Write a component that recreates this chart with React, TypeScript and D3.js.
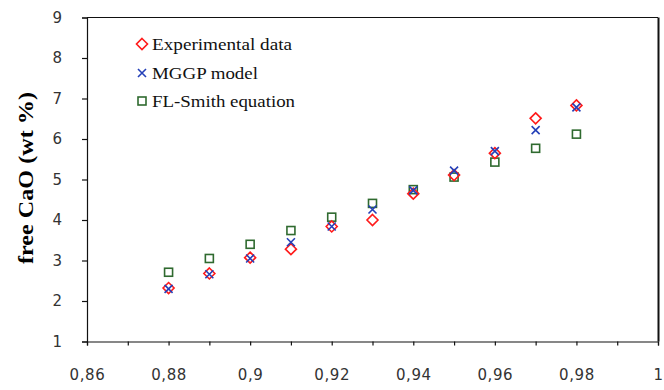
import * as d3 from "d3";
import { useEffect, useRef } from "react";

const xValues = [0.88, 0.89, 0.9, 0.91, 0.92, 0.93, 0.94, 0.95, 0.96, 0.97, 0.98];
const experimental = [2.32, 2.68, 3.07, 3.28, 3.84, 4.0, 4.65, 5.11, 5.65, 6.51, 6.83];
const mggp = [2.3, 2.66, 3.05, 3.45, 3.84, 4.26, 4.73, 5.22, 5.7, 6.22, 6.78];
const flSmith = [2.71, 3.05, 3.4, 3.74, 4.07, 4.41, 4.75, 5.06, 5.43, 5.77, 6.12];
const xTickLabels = ["0,86", "0,88", "0,9", "0,92", "0,94", "0,96", "0,98", "1"];
const yTickLabels = ["1", "2", "3", "4", "5", "6", "7", "8", "9"];
const legendLabels = ["Experimental data", "MGGP model", "FL-Smith equation"];

const W = 664;
const H = 390;

export default function App() {
  const ref = useRef<SVGSVGElement | null>(null);

  useEffect(() => {
    if (!ref.current) return;
    const svg = d3.select(ref.current);
    svg.selectAll("*").remove();

    const x = d3.scaleLinear().domain([0.86, 1]).range([87, 658]);
    const y = d3.scaleLinear().domain([1, 9]).range([341.5, 17.5]);
    const serif = "'Liberation Serif', 'Times New Roman', serif";
    const sans = "'DejaVu Sans', Tahoma, sans-serif";

    // frame: top + right
    svg.append("line").attr("x1", x(0.86)).attr("x2", x(1)).attr("y1", y(9)).attr("y2", y(9))
      .attr("stroke", "#111").attr("stroke-width", 1);
    svg.append("line").attr("x1", x(1) + 0.5).attr("x2", x(1) + 0.5).attr("y1", y(9)).attr("y2", y(1))
      .attr("stroke", "#111").attr("stroke-width", 2);

    // y axis
    const yAxis = d3.axisLeft(y).tickValues(yTickLabels.map(Number)).tickSize(5).tickPadding(20)
      .tickFormat((_, i) => yTickLabels[i]);
    const gy = svg.append("g").attr("transform", `translate(${x(0.86)},0)`).call(yAxis);
    gy.selectAll("text").style("font-family", sans).style("font-size", "15px").style("fill", "#333");

    // x axis: ticks every 0.01, labels every 0.02
    const xTicks = d3.range(0, 15).map((i) => 0.86 + i * 0.01);
    const xAxis = d3.axisBottom(x).tickValues(xTicks).tickSize(4).tickPadding(24)
      .tickFormat((_, i) => (i % 2 === 0 ? xTickLabels[i / 2] : ""));
    const gx = svg.append("g").attr("transform", `translate(0,${y(1)})`).call(xAxis);
    gx.selectAll("text").style("font-family", sans).style("font-size", "15px").style("fill", "#333")
      .attr("letter-spacing", "0.6px");

    svg.selectAll(".domain, .tick line").attr("stroke", "#111").attr("stroke-width", 1.2);

    // y title
    svg.append("text")
      .attr("transform", `translate(33,${178}) rotate(-90)`)
      .attr("text-anchor", "middle")
      .attr("font-family", serif)
      .attr("font-weight", "bold")
      .attr("font-size", 20)
      .attr("textLength", 172)
      .attr("lengthAdjust", "spacingAndGlyphs")
      .text("free CaO (wt %)");

    const diamond = (g: any, cx: number, cy: number) =>
      g.append("path").attr("d", `M${cx},${cy - 5.5}L${cx + 5.5},${cy}L${cx},${cy + 5.5}L${cx - 5.5},${cy}Z`)
        .attr("fill", "none").attr("stroke", "#ff1a1a").attr("stroke-width", 1.6);
    const cross = (g: any, cx: number, cy: number) =>
      g.append("path").attr("d", `M${cx - 4},${cy - 4}L${cx + 4},${cy + 4}M${cx - 4},${cy + 4}L${cx + 4},${cy - 4}`)
        .attr("stroke", "#2440b8").attr("stroke-width", 1.6);
    const square = (g: any, cx: number, cy: number) =>
      g.append("rect").attr("x", cx - 4).attr("y", cy - 4).attr("width", 8).attr("height", 8)
        .attr("fill", "none").attr("stroke", "#2f6a2f").attr("stroke-width", 1.6);

    const marks = svg.append("g");
    xValues.forEach((xv, i) => square(marks, x(xv), y(flSmith[i])));
    xValues.forEach((xv, i) => diamond(marks, x(xv), y(experimental[i])));
    xValues.forEach((xv, i) => cross(marks, x(xv), y(mggp[i])));

    // legend
    const legend = svg.append("g");
    const rows = [44, 73, 101];
    const widths = [140, 106, 143];
    const drawers = [diamond, cross, square];
    legendLabels.forEach((label, i) => {
      drawers[i](legend, 142, rows[i]);
      legend.append("text")
        .attr("x", 152).attr("y", rows[i] + 6)
        .attr("font-family", serif).attr("font-size", 17)
        .attr("textLength", widths[i]).attr("lengthAdjust", "spacingAndGlyphs")
        .attr("fill", "#111")
        .text(label);
    });
  }, []);

  return (
    <svg
      ref={ref}
      width={W}
      height={H}
      style={{ position: "absolute", left: 0, top: 0, background: "#fff" }}
    />
  );
}
